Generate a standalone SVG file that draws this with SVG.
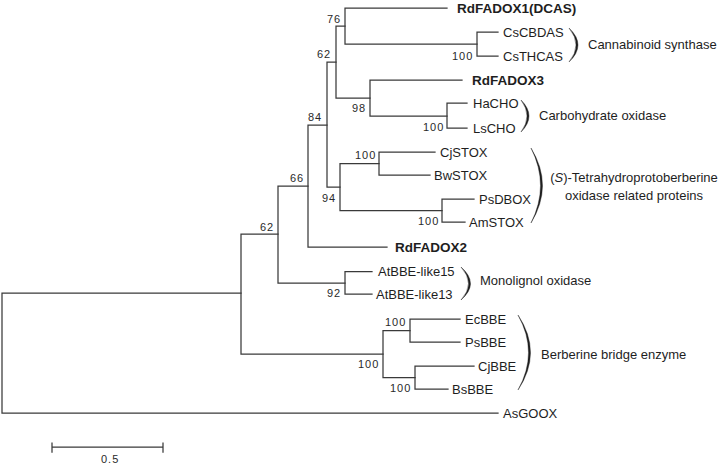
<svg xmlns="http://www.w3.org/2000/svg" width="719" height="464" viewBox="0 0 719 464">
<style>
.ln{fill:none;stroke:#3a3a3a;stroke-width:1.25;stroke-linecap:square}
.lf{font-family:"Liberation Sans",Arial,sans-serif;font-size:13px;fill:#1e1e1e}
.bd{font-weight:bold;font-size:13.5px}
.bs{font-family:"Liberation Sans",Arial,sans-serif;font-size:11px;fill:#2a2a2a;letter-spacing:1px}
.br{fill:#1e1e1e;stroke:#1e1e1e;stroke-width:0.4}
</style>
<rect width="719" height="464" fill="#ffffff"/>
<g id="connectors" class="ln">
<path d="M241,293H2V413H498"/>
<path d="M241,234V354M241,234H278M241,354H383"/>
<path d="M278,186V283M278,186H308M278,283H345"/>
<path d="M345,271.5V294M345,271.5H372M345,294H372"/>
<path d="M308,125V247M308,125H327M308,247H387"/>
<path d="M327,62V187M327,62H336M327,187H340"/>
<path d="M336,26V98M336,26H345M336,98H370"/>
<path d="M345,8V44M345,8H447M345,44H477"/>
<path d="M477,32V56M477,32H498M477,56H498"/>
<path d="M370,80V116M370,80H462M370,116H447"/>
<path d="M447,103V128M447,103H467M447,128H467"/>
<path d="M340,163.5V210.5M340,163.5H379M340,210.5H442"/>
<path d="M379,152V175M379,152H435M379,175H430"/>
<path d="M442,199V222M442,199H474M442,222H465"/>
<path d="M383,330.5V377.5M383,330.5H410M383,377.5H415"/>
<path d="M410,319V342M410,319H460M410,342H460"/>
<path d="M415,366V389M415,366H474M415,389H448"/>
<path d="M52,447H163M52,443V452M163,443V452"/>
</g>
<g id="bootstrap" class="bs">
<text x="327" y="23">76</text>
<text x="452" y="60">100</text>
<text x="317" y="58">62</text>
<text x="352" y="112">98</text>
<text x="423" y="131">100</text>
<text x="308" y="121">84</text>
<text x="355" y="159">100</text>
<text x="322" y="202">94</text>
<text x="418" y="225">100</text>
<text x="290" y="182">66</text>
<text x="260" y="231">62</text>
<text x="327" y="297">92</text>
<text x="385" y="326">100</text>
<text x="358" y="368">100</text>
<text x="390" y="392">100</text>
</g>
<g id="leaf-RdFADOX1"><text class="lf bd" x="457" y="12.5">RdFADOX1(DCAS)</text></g>
<g id="leaf-CsCBDAS"><text class="lf" x="503" y="36.7">CsCBDAS</text></g>
<g id="leaf-CsTHCAS"><text class="lf" x="503" y="60.5">CsTHCAS</text></g>
<g id="leaf-RdFADOX3"><text class="lf bd" x="472" y="85">RdFADOX3</text></g>
<g id="leaf-HaCHO"><text class="lf" x="473" y="107.5">HaCHO</text></g>
<g id="leaf-LsCHO"><text class="lf" x="473" y="132.5">LsCHO</text></g>
<g id="leaf-CjSTOX"><text class="lf" x="440" y="156.5">CjSTOX</text></g>
<g id="leaf-BwSTOX"><text class="lf" x="434" y="179.5">BwSTOX</text></g>
<g id="leaf-PsDBOX"><text class="lf" x="479" y="203.5">PsDBOX</text></g>
<g id="leaf-AmSTOX"><text class="lf" x="469" y="226.5">AmSTOX</text></g>
<g id="leaf-RdFADOX2"><text class="lf bd" x="395" y="252">RdFADOX2</text></g>
<g id="leaf-AtBBE-like15"><text class="lf" x="378" y="276">AtBBE-like15</text></g>
<g id="leaf-AtBBE-like13"><text class="lf" x="376" y="298.5">AtBBE-like13</text></g>
<g id="leaf-EcBBE"><text class="lf" x="465" y="323.5">EcBBE</text></g>
<g id="leaf-PsBBE"><text class="lf" x="465" y="346.5">PsBBE</text></g>
<g id="leaf-CjBBE"><text class="lf" x="478" y="370.5">CjBBE</text></g>
<g id="leaf-BsBBE"><text class="lf" x="452" y="393.5">BsBBE</text></g>
<g id="leaf-AsGOOX"><text class="lf" x="503" y="417.5">AsGOOX</text></g>
<g id="group-cannabinoid">
<path class="br" d="M569,28Q587,45 569,62Q583,45 569,28Z"/>
<text class="lf" x="588" y="48.5">Cannabinoid synthase</text>
</g>
<g id="group-carbohydrate">
<path class="br" d="M521,100Q537,116 521,132Q533,116 521,100Z"/>
<text class="lf" x="539" y="119.5">Carbohydrate oxidase</text>
</g>
<g id="group-stox">
<path class="br" d="M531,148Q554,185.5 531,223Q550,185.5 531,148Z"/>
<text class="lf" x="634" y="181.5" text-anchor="middle">(<tspan font-style="italic">S</tspan>)-Tetrahydroprotoberberine</text>
<text class="lf" x="634" y="199.5" text-anchor="middle">oxidase related proteins</text>
</g>
<g id="group-monolignol">
<path class="br" d="M461,267Q480,283.5 461,300Q476,283.5 461,267Z"/>
<text class="lf" x="480" y="284.5">Monolignol oxidase</text>
</g>
<g id="group-bbe">
<path class="br" d="M518,315Q543,352.5 518,390Q539,352.5 518,315Z"/>
<text class="lf" x="541" y="358.5">Berberine bridge enzyme</text>
</g>
<g id="scale"><text class="bs" x="101" y="463">0.5</text></g>
</svg>
